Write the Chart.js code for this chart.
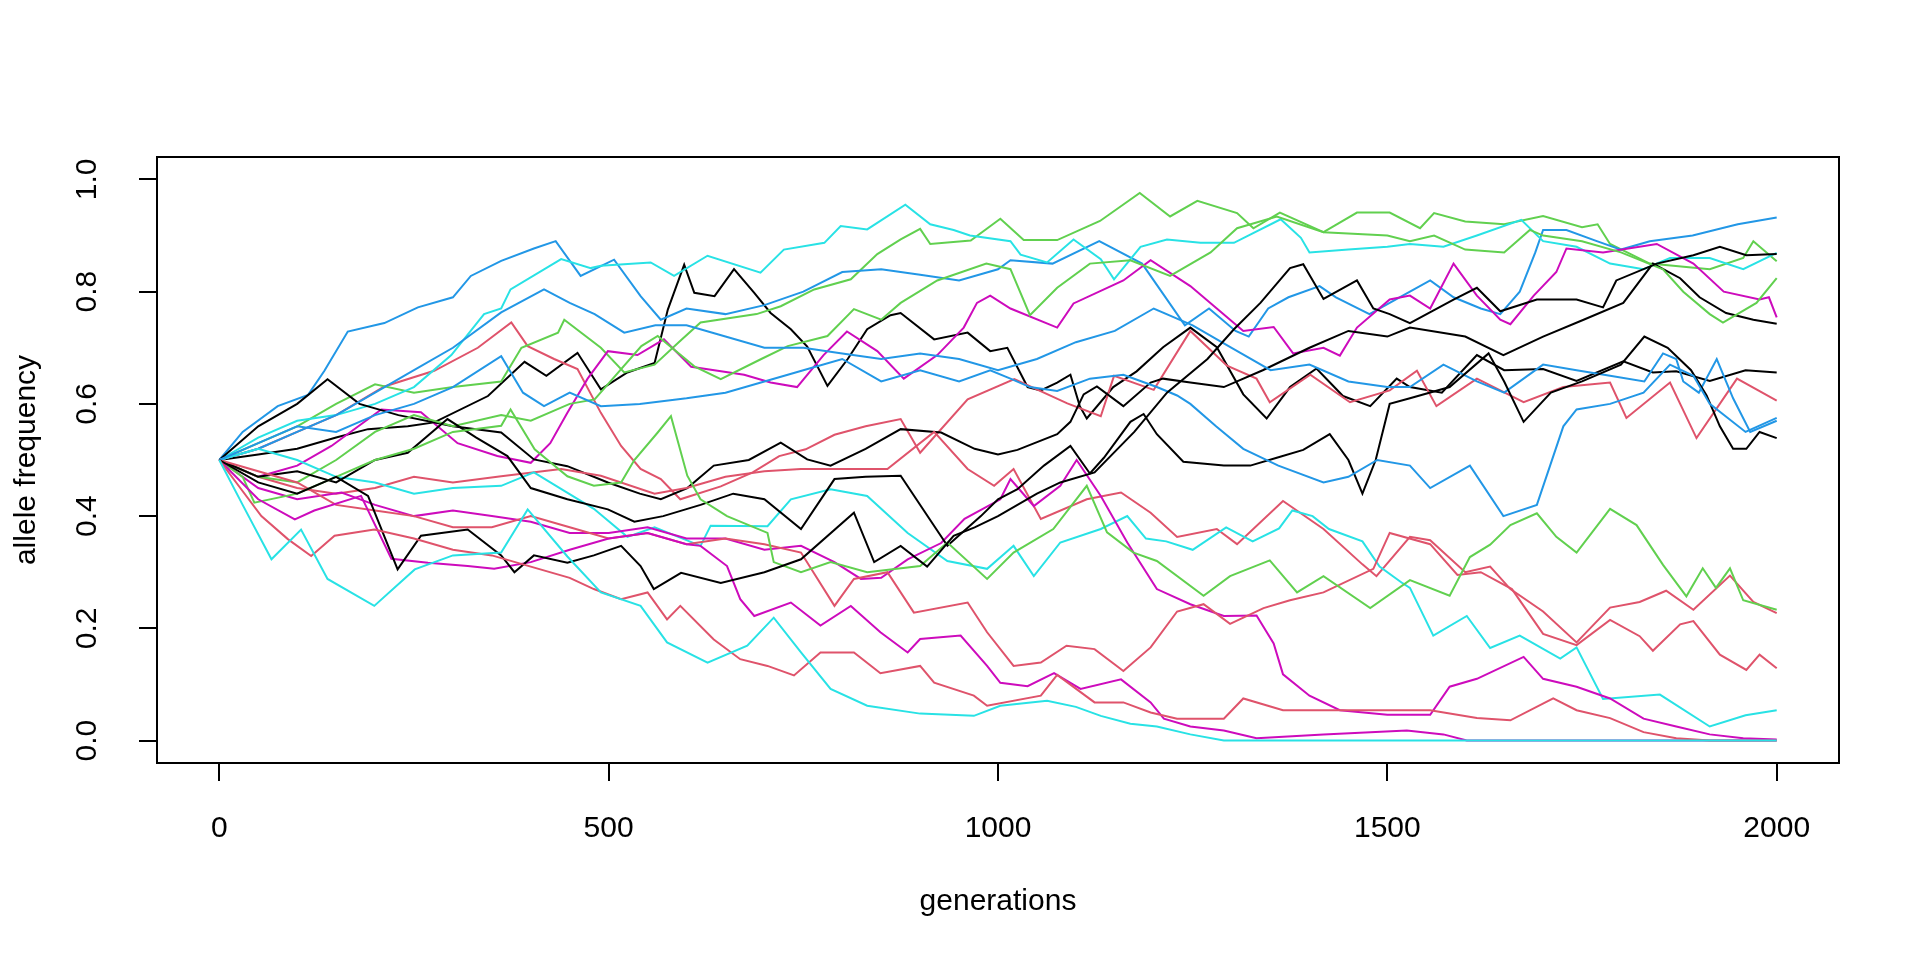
<!DOCTYPE html>
<html>
<head>
<meta charset="utf-8">
<script src="https://cdn.jsdelivr.net/npm/chart.js@4.4.0/dist/chart.umd.min.js"></script>
<style>
html,body{margin:0;padding:0;background:#ffffff;}
#wrap{width:1920px;height:960px;}
</style>
</head>
<body>
<div id="wrap"><canvas id="c" width="1920" height="960"></canvas></div>
<script>
// ---- axis / labels ----
const xTitle = "generations";
const yTitle = "allele frequency";
const xTickValues = [0, 500, 1000, 1500, 2000];
const yTickValues = [0, 0.2, 0.4, 0.6, 0.8, 1.0];

// ---- series: [generation, allele frequency] ----
const black1 = [[0,0.5],[50,0.51],[100,0.52],[150,0.54],[191,0.555],[242,0.56],[276,0.567],[345,0.614],[392,0.675],[420,0.65],[460,0.691],[490,0.626],[524,0.656],[559,0.673],[576,0.768],[597,0.848],[610,0.798],[636,0.792],[661,0.84],[687,0.798],[708,0.762],[734,0.733],[755,0.702],[781,0.632],[807,0.68],[832,0.733],[862,0.758],[875,0.762],[918,0.715],[961,0.727],[990,0.694],[1012,0.70],[1038,0.63],[1055,0.624],[1076,0.638],[1093,0.652],[1105,0.596],[1114,0.574],[1148,0.63],[1178,0.658],[1212,0.701],[1247,0.736],[1281,0.701],[1315,0.617],[1345,0.574],[1375,0.63],[1409,0.663],[1443,0.614],[1478,0.596],[1512,0.645],[1529,0.63],[1570,0.62],[1615,0.687],[1650,0.66],[1700,0.662],[1743,0.641],[1803,0.676],[1841,0.656],[1871,0.658],[1914,0.641],[1960,0.66],[2000,0.656]];
const red1 = [[0,0.5],[50,0.52],[100,0.55],[150,0.58],[212,0.631],[276,0.659],[332,0.70],[375,0.745],[396,0.703],[430,0.68],[460,0.662],[490,0.584],[516,0.525],[541,0.484],[567,0.466],[592,0.43],[644,0.453],[685,0.478],[719,0.507],[753,0.519],[790,0.545],[830,0.56],[875,0.573],[900,0.513],[961,0.608],[1021,0.644],[1089,0.601],[1132,0.578],[1149,0.65],[1200,0.625],[1247,0.73],[1294,0.668],[1332,0.645],[1349,0.603],[1401,0.652],[1452,0.603],[1503,0.624],[1538,0.659],[1563,0.596],[1615,0.645],[1675,0.603],[1726,0.63],[1786,0.638],[1807,0.575],[1863,0.638],[1897,0.539],[1949,0.645],[2000,0.606]];
const green1 = [[0,0.5],[50,0.53],[100,0.56],[150,0.60],[200,0.635],[250,0.62],[300,0.63],[362,0.64],[388,0.70],[435,0.727],[443,0.75],[490,0.70],[520,0.656],[559,0.67],[590,0.71],[618,0.745],[690,0.76],[721,0.774],[764,0.804],[811,0.822],[845,0.867],[875,0.893],[900,0.912],[913,0.885],[965,0.891],[1003,0.93],[1033,0.892],[1076,0.892],[1131,0.926],[1182,0.976],[1221,0.934],[1256,0.962],[1307,0.94],[1328,0.913],[1362,0.941],[1418,0.906],[1461,0.941],[1503,0.941],[1542,0.913],[1560,0.94],[1600,0.925],[1650,0.92],[1700,0.935],[1750,0.915],[1770,0.92],[1786,0.885],[1837,0.85],[1914,0.84],[1957,0.86],[1970,0.89],[2000,0.854]];
const blue1 = [[0,0.5],[30,0.55],[75,0.596],[114,0.616],[135,0.659],[165,0.729],[212,0.744],[255,0.772],[300,0.79],[323,0.828],[362,0.855],[404,0.877],[432,0.89],[464,0.828],[507,0.857],[541,0.792],[567,0.75],[600,0.77],[650,0.76],[700,0.776],[750,0.80],[800,0.835],[850,0.84],[900,0.83],[950,0.82],[1000,0.84],[1016,0.856],[1070,0.85],[1130,0.89],[1185,0.85],[1210,0.80],[1240,0.74],[1271,0.77],[1305,0.73],[1322,0.72],[1347,0.77],[1373,0.79],[1413,0.81],[1434,0.79],[1477,0.76],[1529,0.80],[1555,0.82],[1585,0.79],[1620,0.77],[1645,0.76],[1670,0.80],[1690,0.87],[1700,0.91],[1730,0.91],[1769,0.89],[1800,0.875],[1837,0.89],[1892,0.90],[1950,0.92],[2000,0.932]];
const cyan1 = [[0,0.5],[50,0.54],[100,0.57],[150,0.58],[200,0.60],[250,0.63],[298,0.687],[340,0.76],[362,0.77],[374,0.804],[439,0.858],[477,0.842],[490,0.846],[554,0.852],[584,0.828],[627,0.864],[695,0.834],[725,0.875],[777,0.887],[798,0.917],[832,0.911],[881,0.955],[913,0.92],[943,0.91],[964,0.90],[1016,0.89],[1029,0.866],[1063,0.852],[1097,0.893],[1132,0.858],[1149,0.822],[1183,0.88],[1217,0.893],[1260,0.887],[1303,0.887],[1363,0.929],[1389,0.896],[1400,0.87],[1450,0.875],[1500,0.88],[1529,0.885],[1572,0.88],[1615,0.90],[1672,0.928],[1700,0.89],[1743,0.88],[1786,0.85],[1829,0.84],[1863,0.86],[1914,0.86],[1957,0.84],[2000,0.869]];
const magenta1 = [[0,0.5],[50,0.47],[100,0.49],[144,0.525],[208,0.59],[259,0.585],[306,0.53],[357,0.507],[400,0.495],[425,0.53],[447,0.584],[473,0.645],[499,0.694],[537,0.687],[571,0.715],[606,0.666],[640,0.659],[674,0.652],[708,0.638],[742,0.63],[776,0.687],[806,0.729],[845,0.694],[879,0.645],[922,0.687],[956,0.736],[973,0.78],[990,0.793],[1016,0.77],[1076,0.736],[1097,0.779],[1161,0.82],[1196,0.856],[1247,0.81],[1281,0.77],[1315,0.73],[1354,0.737],[1379,0.69],[1418,0.70],[1439,0.686],[1461,0.736],[1503,0.786],[1529,0.793],[1555,0.77],[1585,0.85],[1615,0.793],[1645,0.75],[1658,0.742],[1688,0.793],[1717,0.835],[1730,0.877],[1777,0.87],[1846,0.885],[1893,0.85],[1932,0.80],[1978,0.786],[1990,0.79],[2000,0.754]];
const black2 = [[0,0.5],[50,0.56],[100,0.60],[139,0.644],[180,0.60],[230,0.58],[300,0.56],[362,0.549],[404,0.501],[447,0.489],[499,0.46],[540,0.44],[567,0.43],[601,0.45],[635,0.49],[680,0.50],[721,0.531],[755,0.501],[785,0.49],[830,0.52],[875,0.555],[927,0.549],[970,0.52],[1000,0.51],[1025,0.518],[1076,0.546],[1093,0.568],[1110,0.617],[1127,0.631],[1161,0.596],[1196,0.638],[1212,0.645],[1247,0.638],[1290,0.63],[1340,0.66],[1400,0.70],[1450,0.73],[1500,0.72],[1529,0.736],[1600,0.72],[1649,0.687],[1700,0.72],[1752,0.75],[1803,0.78],[1841,0.85],[1876,0.824],[1901,0.79],[1935,0.762],[1970,0.75],[2000,0.743]];
const red2 = [[0,0.5],[50,0.47],[100,0.45],[150,0.44],[200,0.45],[250,0.47],[300,0.46],[362,0.471],[439,0.484],[490,0.472],[559,0.44],[600,0.45],[650,0.47],[700,0.48],[747,0.484],[790,0.484],[858,0.484],[918,0.55],[961,0.484],[995,0.454],[1020,0.484],[1055,0.395],[1114,0.43],[1158,0.442],[1196,0.406],[1230,0.363],[1281,0.377],[1307,0.35],[1366,0.427],[1418,0.377],[1468,0.314],[1486,0.293],[1529,0.363],[1555,0.357],[1600,0.30],[1632,0.31],[1658,0.27],[1700,0.23],[1743,0.175],[1786,0.237],[1824,0.247],[1858,0.267],[1893,0.233],[1940,0.294],[1970,0.247],[2000,0.227]];
const green2 = [[0,0.5],[50,0.47],[100,0.46],[150,0.50],[200,0.55],[250,0.58],[300,0.56],[362,0.58],[400,0.57],[450,0.60],[482,0.608],[542,0.703],[563,0.721],[610,0.667],[644,0.644],[696,0.68],[730,0.703],[781,0.721],[815,0.769],[850,0.75],[875,0.78],[922,0.82],[985,0.85],[1016,0.84],[1041,0.758],[1076,0.807],[1118,0.85],[1170,0.856],[1221,0.828],[1273,0.87],[1307,0.913],[1358,0.934],[1418,0.906],[1500,0.90],[1529,0.89],[1560,0.90],[1600,0.875],[1650,0.87],[1683,0.91],[1700,0.90],[1750,0.89],[1800,0.87],[1854,0.84],[1880,0.80],[1914,0.76],[1931,0.745],[1974,0.78],[2000,0.824]];
const blue2 = [[0,0.5],[50,0.52],[100,0.55],[150,0.58],[200,0.62],[250,0.66],[300,0.70],[362,0.763],[417,0.804],[450,0.78],[482,0.76],[520,0.727],[560,0.74],[600,0.74],[650,0.72],[700,0.70],[750,0.70],[800,0.69],[850,0.68],[900,0.69],[950,0.68],[1000,0.66],[1050,0.68],[1100,0.71],[1150,0.73],[1200,0.77],[1250,0.74],[1300,0.70],[1350,0.66],[1400,0.67],[1450,0.64],[1500,0.63],[1529,0.63],[1572,0.67],[1615,0.64],[1650,0.62],[1700,0.67],[1743,0.66],[1786,0.65],[1830,0.64],[1854,0.69],[1871,0.68],[1880,0.64],[1900,0.62],[1923,0.68],[1944,0.61],[1966,0.55],[2000,0.57]];
const cyan2 = [[0,0.5],[50,0.52],[100,0.50],[150,0.47],[200,0.46],[250,0.44],[300,0.45],[362,0.454],[404,0.478],[481,0.413],[524,0.363],[559,0.38],[618,0.347],[631,0.383],[704,0.382],[734,0.43],[785,0.448],[832,0.436],[884,0.37],[935,0.32],[986,0.306],[1020,0.347],[1046,0.293],[1080,0.353],[1132,0.377],[1166,0.40],[1190,0.36],[1216,0.355],[1250,0.34],[1293,0.38],[1327,0.355],[1361,0.378],[1378,0.41],[1404,0.40],[1425,0.377],[1468,0.355],[1490,0.31],[1520,0.28],[1529,0.272],[1559,0.187],[1602,0.222],[1632,0.165],[1670,0.187],[1722,0.146],[1743,0.166],[1777,0.074],[1850,0.082],[1914,0.025],[1960,0.045],[2000,0.054]];
const magenta2 = [[0,0.5],[50,0.45],[100,0.43],[157,0.442],[200,0.42],[250,0.40],[300,0.41],[350,0.40],[400,0.39],[450,0.37],[500,0.37],[550,0.38],[600,0.36],[650,0.36],[700,0.34],[747,0.347],[790,0.318],[824,0.288],[850,0.29],[884,0.323],[927,0.352],[957,0.395],[1003,0.43],[1016,0.466],[1046,0.418],[1080,0.454],[1101,0.50],[1132,0.436],[1166,0.353],[1204,0.27],[1247,0.243],[1290,0.222],[1332,0.223],[1354,0.173],[1366,0.118],[1400,0.08],[1439,0.054],[1500,0.046],[1555,0.046],[1580,0.096],[1615,0.11],[1675,0.149],[1700,0.11],[1743,0.096],[1786,0.075],[1829,0.039],[1871,0.025],[1914,0.011],[1957,0.004],[2000,0.002]];
const black3 = [[0,0.5],[50,0.47],[100,0.48],[150,0.46],[200,0.50],[242,0.513],[293,0.573],[330,0.54],[370,0.507],[400,0.45],[447,0.43],[499,0.412],[533,0.39],[570,0.40],[618,0.42],[660,0.44],[700,0.43],[747,0.377],[790,0.466],[830,0.47],[875,0.472],[935,0.347],[978,0.40],[1000,0.43],[1025,0.448],[1059,0.49],[1093,0.525],[1118,0.476],[1136,0.504],[1170,0.568],[1187,0.582],[1204,0.546],[1238,0.497],[1290,0.49],[1324,0.49],[1358,0.504],[1392,0.518],[1426,0.546],[1450,0.50],[1468,0.44],[1485,0.50],[1503,0.60],[1529,0.61],[1580,0.63],[1630,0.69],[1650,0.64],[1675,0.568],[1710,0.62],[1750,0.64],[1800,0.67],[1830,0.72],[1860,0.70],[1890,0.66],[1910,0.615],[1927,0.56],[1944,0.52],[1961,0.52],[1978,0.55],[2000,0.539]];
const red3 = [[0,0.5],[50,0.48],[100,0.46],[150,0.42],[200,0.41],[250,0.40],[300,0.38],[350,0.38],[400,0.40],[450,0.38],[500,0.36],[550,0.37],[600,0.35],[650,0.36],[700,0.35],[747,0.335],[790,0.24],[815,0.288],[858,0.30],[892,0.228],[961,0.246],[986,0.193],[1020,0.133],[1055,0.139],[1088,0.169],[1124,0.163],[1161,0.124],[1196,0.166],[1230,0.23],[1264,0.243],[1298,0.208],[1341,0.236],[1375,0.25],[1418,0.264],[1482,0.306],[1503,0.37],[1555,0.35],[1590,0.295],[1620,0.30],[1660,0.27],[1700,0.19],[1743,0.17],[1786,0.215],[1824,0.186],[1841,0.16],[1876,0.207],[1893,0.213],[1927,0.153],[1961,0.126],[1978,0.153],[2000,0.129]];
const green3 = [[0,0.5],[30,0.47],[45,0.424],[100,0.44],[150,0.47],[200,0.50],[250,0.52],[300,0.55],[362,0.561],[374,0.59],[405,0.519],[447,0.471],[481,0.454],[516,0.46],[533,0.50],[563,0.549],[580,0.578],[601,0.472],[618,0.43],[652,0.40],[704,0.37],[712,0.318],[747,0.30],[785,0.318],[832,0.30],[900,0.311],[935,0.353],[986,0.288],[1020,0.335],[1071,0.377],[1114,0.454],[1140,0.371],[1174,0.335],[1204,0.32],[1264,0.258],[1298,0.293],[1349,0.321],[1384,0.264],[1418,0.293],[1478,0.236],[1529,0.286],[1580,0.258],[1606,0.327],[1632,0.349],[1658,0.384],[1692,0.405],[1717,0.363],[1743,0.335],[1786,0.413],[1820,0.384],[1854,0.313],[1884,0.257],[1905,0.307],[1922,0.272],[1940,0.307],[1957,0.25],[2000,0.233]];
const blue3 = [[0,0.5],[50,0.53],[100,0.56],[150,0.55],[200,0.58],[250,0.60],[300,0.63],[362,0.685],[390,0.62],[417,0.596],[450,0.62],[490,0.596],[540,0.60],[600,0.61],[650,0.62],[700,0.64],[750,0.66],[800,0.68],[850,0.64],[900,0.66],[950,0.64],[990,0.66],[1016,0.645],[1041,0.63],[1076,0.623],[1118,0.645],[1161,0.652],[1204,0.63],[1230,0.615],[1247,0.60],[1280,0.56],[1315,0.52],[1360,0.49],[1418,0.46],[1450,0.47],[1487,0.50],[1529,0.49],[1555,0.45],[1606,0.49],[1649,0.40],[1692,0.42],[1709,0.49],[1726,0.56],[1743,0.59],[1786,0.60],[1829,0.62],[1863,0.67],[1893,0.65],[1914,0.60],[1960,0.55],[2000,0.575]];
const cyan3 = [[0,0.5],[30,0.42],[67,0.323],[105,0.376],[139,0.288],[199,0.24],[251,0.305],[300,0.33],[362,0.335],[396,0.412],[447,0.328],[490,0.264],[541,0.24],[575,0.175],[627,0.139],[678,0.169],[712,0.219],[747,0.157],[785,0.092],[832,0.062],[900,0.048],[969,0.044],[1003,0.062],[1063,0.071],[1100,0.06],[1132,0.044],[1170,0.03],[1204,0.025],[1247,0.011],[1290,0],[2000,0]];
const magenta3 = [[0,0.5],[50,0.43],[97,0.394],[122,0.41],[182,0.436],[221,0.324],[268,0.317],[319,0.311],[353,0.306],[400,0.318],[450,0.34],[500,0.36],[550,0.37],[600,0.35],[618,0.347],[652,0.311],[669,0.252],[687,0.222],[734,0.246],[772,0.205],[811,0.24],[849,0.193],[884,0.157],[900,0.181],[952,0.187],[986,0.133],[1003,0.103],[1038,0.097],[1072,0.12],[1106,0.092],[1158,0.109],[1196,0.068],[1213,0.039],[1247,0.025],[1290,0.018],[1332,0.004],[1418,0.011],[1525,0.018],[1572,0.011],[1602,0],[2000,0]];
const black4 = [[0,0.5],[50,0.46],[100,0.44],[150,0.47],[191,0.436],[229,0.305],[259,0.365],[319,0.376],[362,0.33],[379,0.30],[404,0.33],[447,0.317],[481,0.33],[516,0.347],[541,0.311],[558,0.27],[593,0.299],[644,0.281],[700,0.30],[747,0.323],[815,0.406],[841,0.318],[875,0.347],[909,0.31],[943,0.365],[970,0.38],[1000,0.40],[1050,0.44],[1080,0.46],[1124,0.478],[1175,0.55],[1217,0.62],[1269,0.68],[1303,0.733],[1337,0.78],[1375,0.842],[1392,0.849],[1418,0.787],[1461,0.82],[1482,0.77],[1503,0.76],[1529,0.744],[1585,0.786],[1615,0.807],[1645,0.765],[1692,0.786],[1743,0.786],[1777,0.772],[1794,0.82],[1846,0.85],[1893,0.865],[1927,0.88],[1961,0.865],[2000,0.867]];
const red4 = [[0,0.5],[54,0.40],[88,0.359],[118,0.329],[148,0.365],[199,0.376],[250,0.36],[300,0.34],[350,0.33],[400,0.31],[450,0.29],[481,0.27],[516,0.252],[550,0.264],[575,0.216],[592,0.24],[635,0.18],[669,0.145],[704,0.133],[738,0.116],[772,0.157],[815,0.157],[849,0.12],[900,0.133],[918,0.103],[969,0.08],[986,0.062],[1055,0.08],[1076,0.117],[1124,0.068],[1161,0.068],[1196,0.05],[1230,0.039],[1290,0.039],[1315,0.075],[1366,0.054],[1461,0.054],[1555,0.054],[1615,0.04],[1658,0.036],[1713,0.075],[1743,0.054],[1786,0.04],[1829,0.015],[1871,0.004],[1914,0],[2000,0]];

const seriesList = [black1, red1, green1, blue1, cyan1, magenta1,
                    black2, red2, green2, blue2, cyan2, magenta2,
                    black3, red3, green3, blue3, cyan3, magenta3,
                    black4, red4];
const palette = ["#000000", "#DF536B", "#61D04F", "#2297E6", "#28E2E5", "#CD0BBC"];

// ---- chart ----
const FONT = "'Liberation Sans', Arial, Helvetica, sans-serif";
Chart.defaults.font.family = FONT;
Chart.defaults.font.size = 30;
Chart.defaults.color = "#000000";

const boxPlugin = {
  id: "plotBox",
  afterDraw(chart) {
    const a = chart.chartArea, ctx = chart.ctx;
    ctx.save();
    ctx.strokeStyle = "#000000";
    ctx.lineWidth = 2;
    ctx.strokeRect(a.left, a.top, a.right - a.left, a.bottom - a.top);
    ctx.restore();
  }
};

const datasets = seriesList.map((s, i) => ({
  data: s.map(p => ({x: p[0], y: p[1]})),
  borderColor: palette[i % palette.length],
  borderWidth: 2,
  pointRadius: 0,
  tension: 0,
  fill: false,
  order: (s === cyan3) ? -1 : seriesList.length - i
}));

new Chart(document.getElementById("c").getContext("2d"), {
  type: "line",
  data: {datasets},
  options: {
    responsive: false,
    devicePixelRatio: 1,
    animation: false,
    events: [],
    layout: {padding: {left: 0, right: 81, top: 157, bottom: 0}},
    plugins: {legend: {display: false}, tooltip: {enabled: false}},
    scales: {
      x: {
        type: "linear", min: -80, max: 2080,
        afterBuildTicks(s) { s.ticks = xTickValues.map(v => ({value: v})); },
        afterFit(s) { s.height = 197; },
        border: {display: false},
        grid: {display: true, drawOnChartArea: false, drawTicks: true, tickLength: 18, color: "#000000", lineWidth: 2},
        ticks: {autoSkip: false, minRotation: 0, maxRotation: 0,
                padding: 30, color: "#000000", font: {size: 30}, callback: v => String(v)},
        title: {display: true, text: xTitle, color: "#000000", font: {size: 30}, padding: {top: 0, bottom: 40}}
      },
      y: {
        type: "linear", min: -0.04, max: 1.04,
        afterBuildTicks(s) { s.ticks = yTickValues.map(v => ({value: v})); },
        afterFit(s) { s.width = 157; },
        border: {display: false},
        grid: {display: true, drawOnChartArea: false, drawTicks: true, tickLength: 18, color: "#000000", lineWidth: 2},
        ticks: {autoSkip: false, minRotation: 90, maxRotation: 90,
                crossAlign: "center", padding: 30, color: "#000000", font: {size: 30}, callback: v => Number(v).toFixed(1)},
        title: {display: true, text: yTitle, color: "#000000", font: {size: 30}, padding: {top: 9, bottom: 0}}
      }
    }
  },
  plugins: [boxPlugin]
});
</script>
</body>
</html>
